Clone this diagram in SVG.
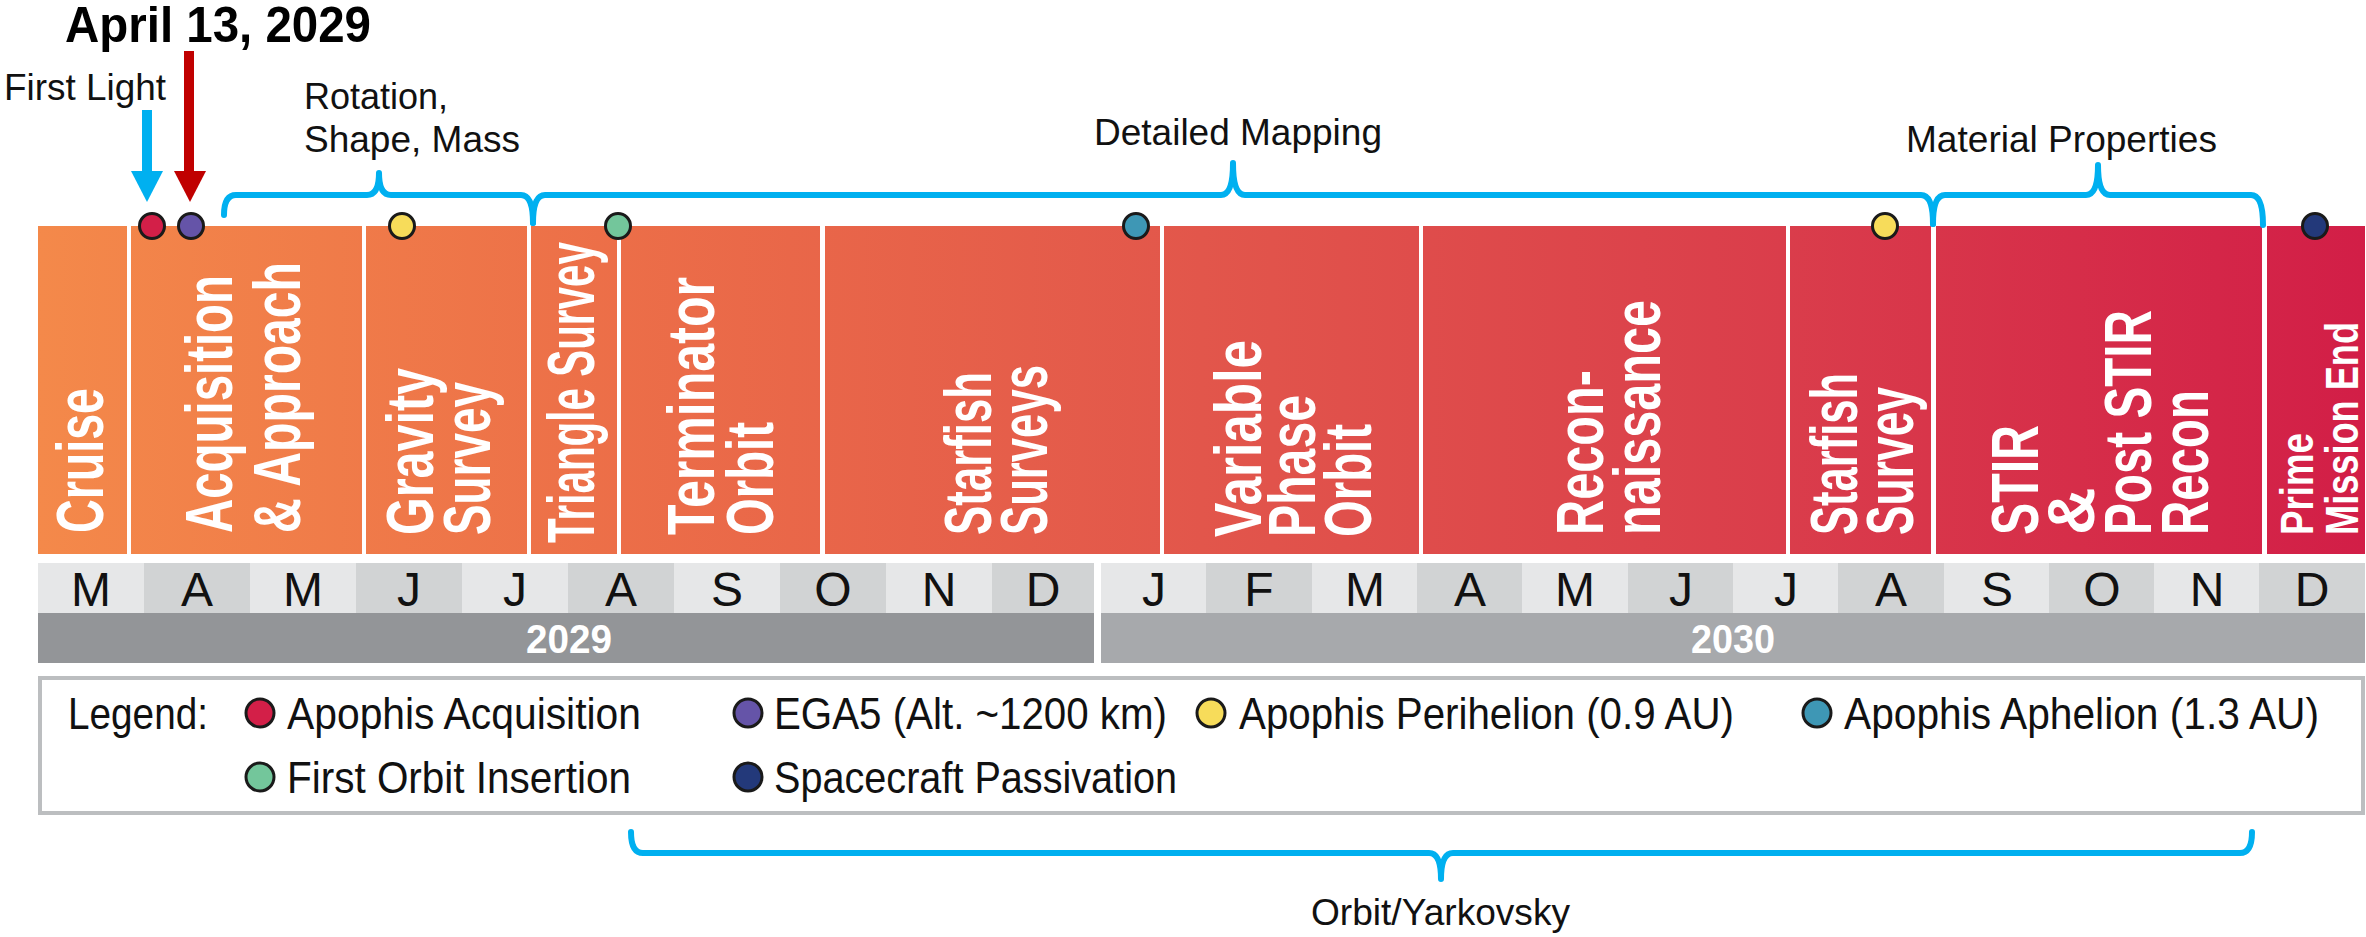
<svg xmlns="http://www.w3.org/2000/svg" width="2366" height="937" viewBox="0 0 2366 937">
<defs>
<linearGradient id="barGrad" gradientUnits="userSpaceOnUse" x1="38" y1="0" x2="2365" y2="0">
<stop offset="0" stop-color="#f4894a"/>
<stop offset="0.25" stop-color="#ec6e48"/>
<stop offset="0.5" stop-color="#e2564b"/>
<stop offset="0.75" stop-color="#da3d4b"/>
<stop offset="1" stop-color="#d21e47"/>
</linearGradient>
</defs>
<style>
.phase{fill:url(#barGrad);}
.pl{font-family:"Liberation Sans",Arial,sans-serif;font-weight:bold;font-size:66px;fill:#ffffff;}
.pls{font-family:"Liberation Sans",Arial,sans-serif;font-weight:bold;font-size:47px;fill:#ffffff;}
.mon{font-family:"Liberation Sans",Arial,sans-serif;font-size:48px;fill:#111111;text-anchor:middle;}
.mL{fill:#e6e7e8;}
.mD{fill:#d1d3d4;}
.yr{font-family:"Liberation Sans",Arial,sans-serif;font-weight:bold;font-size:40px;fill:#ffffff;}
.lg{font-family:"Liberation Sans",Arial,sans-serif;font-size:44px;fill:#111111;}
.lab{font-family:"Liberation Sans",Arial,sans-serif;font-size:36px;fill:#111111;}
.dot{stroke:#1a1a1a;stroke-width:3;}
.brace{fill:none;stroke:#00b0f0;stroke-width:6;stroke-linecap:round;stroke-linejoin:round;}
.cRed{fill:#d31f48;}
.cPur{fill:#6554a8;}
.cYel{fill:#f7dc5a;}
.cGrn{fill:#73c69b;}
.cTeal{fill:#3e97b5;}
.cNavy{fill:#23397a;}
</style>

<!-- Phase bars -->
<g id="phase-cruise">
<rect class="phase" x="38" y="226" width="89" height="328"/>
<text class="pl" transform="translate(103,533) rotate(-90)" textLength="145" lengthAdjust="spacingAndGlyphs">Cruise</text>
</g>
<g id="phase-acquisition">
<rect class="phase" x="131" y="226" width="231" height="328"/>
<text class="pl" transform="translate(232,533) rotate(-90)" textLength="258" lengthAdjust="spacingAndGlyphs">Acquisition</text>
<text class="pl" transform="translate(300,533) rotate(-90)" textLength="271" lengthAdjust="spacingAndGlyphs">&amp; Approach</text>
</g>
<g id="phase-gravity">
<rect class="phase" x="366" y="226" width="161" height="328"/>
<text class="pl" transform="translate(433,535) rotate(-90)" textLength="167" lengthAdjust="spacingAndGlyphs">Gravity</text>
<text class="pl" transform="translate(490,535) rotate(-90)" textLength="153" lengthAdjust="spacingAndGlyphs">Survey</text>
</g>
<g id="phase-triangle">
<rect class="phase" x="531" y="226" width="86" height="328"/>
<text class="pl" transform="translate(594,543) rotate(-90)" textLength="301" lengthAdjust="spacingAndGlyphs">Triangle Survey</text>
</g>
<g id="phase-terminator">
<rect class="phase" x="621" y="226" width="199" height="328"/>
<text class="pl" transform="translate(714,535) rotate(-90)" textLength="258" lengthAdjust="spacingAndGlyphs">Terminator</text>
<text class="pl" transform="translate(773,535) rotate(-90)" textLength="113" lengthAdjust="spacingAndGlyphs">Orbit</text>
</g>
<g id="phase-starfish-surveys">
<rect class="phase" x="825" y="226" width="335" height="328"/>
<text class="pl" transform="translate(991,535) rotate(-90)" textLength="163" lengthAdjust="spacingAndGlyphs">Starfish</text>
<text class="pl" transform="translate(1047,535) rotate(-90)" textLength="170" lengthAdjust="spacingAndGlyphs">Surveys</text>
</g>
<g id="phase-variable">
<rect class="phase" x="1164" y="226" width="255" height="328"/>
<text class="pl" transform="translate(1261,537) rotate(-90)" textLength="197" lengthAdjust="spacingAndGlyphs">Variable</text>
<text class="pl" transform="translate(1315,537) rotate(-90)" textLength="142" lengthAdjust="spacingAndGlyphs">Phase</text>
<text class="pl" transform="translate(1371,537) rotate(-90)" textLength="113" lengthAdjust="spacingAndGlyphs">Orbit</text>
</g>
<g id="phase-reconnaissance">
<rect class="phase" x="1423" y="226" width="363" height="328"/>
<text class="pl" transform="translate(1603,535) rotate(-90)" textLength="165" lengthAdjust="spacingAndGlyphs">Recon-</text>
<text class="pl" transform="translate(1660,535) rotate(-90)" textLength="235" lengthAdjust="spacingAndGlyphs">naissance</text>
</g>
<g id="phase-starfish-survey">
<rect class="phase" x="1790" y="226" width="141" height="328"/>
<text class="pl" transform="translate(1857,535) rotate(-90)" textLength="162" lengthAdjust="spacingAndGlyphs">Starfish</text>
<text class="pl" transform="translate(1913,535) rotate(-90)" textLength="148" lengthAdjust="spacingAndGlyphs">Survey</text>
</g>
<g id="phase-stir">
<rect class="phase" x="1936" y="226" width="326" height="328"/>
<text class="pl" transform="translate(2038,535) rotate(-90)" textLength="110" lengthAdjust="spacingAndGlyphs">STIR</text>
<text class="pl" transform="translate(2094,535) rotate(-90)">&amp;</text>
<text class="pl" transform="translate(2151,535) rotate(-90)" textLength="225" lengthAdjust="spacingAndGlyphs">Post STIR</text>
<text class="pl" transform="translate(2208,535) rotate(-90)" textLength="145" lengthAdjust="spacingAndGlyphs">Recon</text>
</g>
<g id="phase-prime-end">
<rect class="phase" x="2267" y="226" width="98" height="328"/>
<text class="pls" transform="translate(2313,535) rotate(-90)" textLength="102" lengthAdjust="spacingAndGlyphs">Prime</text>
<text class="pls" transform="translate(2358,535) rotate(-90)" textLength="213" lengthAdjust="spacingAndGlyphs">Mission End</text>
</g>

<!-- Months -->
<g id="months">
<rect class="mL" x="38" y="563" width="106" height="50"/>
<rect class="mD" x="144" y="563" width="106" height="50"/>
<rect class="mL" x="250" y="563" width="106" height="50"/>
<rect class="mD" x="356" y="563" width="106" height="50"/>
<rect class="mL" x="462" y="563" width="106" height="50"/>
<rect class="mD" x="568" y="563" width="106" height="50"/>
<rect class="mL" x="674" y="563" width="106" height="50"/>
<rect class="mD" x="780" y="563" width="106" height="50"/>
<rect class="mL" x="886" y="563" width="106" height="50"/>
<rect class="mD" x="992" y="563" width="102" height="50"/>
<rect class="mL" x="1101" y="563" width="106" height="50"/>
<rect class="mD" x="1206" y="563" width="106" height="50"/>
<rect class="mL" x="1312" y="563" width="106" height="50"/>
<rect class="mD" x="1417" y="563" width="106" height="50"/>
<rect class="mL" x="1522" y="563" width="106" height="50"/>
<rect class="mD" x="1628" y="563" width="106" height="50"/>
<rect class="mL" x="1733" y="563" width="106" height="50"/>
<rect class="mD" x="1838" y="563" width="106" height="50"/>
<rect class="mL" x="1944" y="563" width="106" height="50"/>
<rect class="mD" x="2049" y="563" width="106" height="50"/>
<rect class="mL" x="2154" y="563" width="106" height="50"/>
<rect class="mD" x="2259" y="563" width="106" height="50"/>
<text class="mon" x="91" y="606">M</text>
<text class="mon" x="197" y="606">A</text>
<text class="mon" x="303" y="606">M</text>
<text class="mon" x="409" y="606">J</text>
<text class="mon" x="515" y="606">J</text>
<text class="mon" x="621" y="606">A</text>
<text class="mon" x="727" y="606">S</text>
<text class="mon" x="833" y="606">O</text>
<text class="mon" x="939" y="606">N</text>
<text class="mon" x="1043" y="606">D</text>
<text class="mon" x="1154" y="606">J</text>
<text class="mon" x="1259" y="606">F</text>
<text class="mon" x="1365" y="606">M</text>
<text class="mon" x="1470" y="606">A</text>
<text class="mon" x="1575" y="606">M</text>
<text class="mon" x="1681" y="606">J</text>
<text class="mon" x="1786" y="606">J</text>
<text class="mon" x="1891" y="606">A</text>
<text class="mon" x="1997" y="606">S</text>
<text class="mon" x="2102" y="606">O</text>
<text class="mon" x="2207" y="606">N</text>
<text class="mon" x="2312" y="606">D</text>
</g>

<!-- Years -->
<g id="year-2029">
<rect x="38" y="613" width="1056" height="50" fill="#939598"/>
<text class="yr" x="526" y="653" textLength="86" lengthAdjust="spacingAndGlyphs">2029</text>
</g>
<g id="year-2030">
<rect x="1101" y="613" width="1264" height="50" fill="#a7a9ac"/>
<text class="yr" x="1691" y="653" textLength="84" lengthAdjust="spacingAndGlyphs">2030</text>
</g>

<!-- Event dots -->
<g id="events">
<circle class="dot cRed" cx="152" cy="226" r="12.5"/>
<circle class="dot cPur" cx="191" cy="226" r="12.5"/>
<circle class="dot cYel" cx="402" cy="226" r="12.5"/>
<circle class="dot cGrn" cx="618" cy="226" r="12.5"/>
<circle class="dot cTeal" cx="1136" cy="226" r="12.5"/>
<circle class="dot cYel" cx="1885" cy="226" r="12.5"/>
<circle class="dot cNavy" cx="2315" cy="226" r="12.5"/>
</g>

<!-- Top labels and arrows -->
<g id="label-april">
<text x="65" y="42" font-family="'Liberation Sans',Arial,sans-serif" font-weight="bold" font-size="50" fill="#000" textLength="306" lengthAdjust="spacingAndGlyphs">April 13, 2029</text>
</g>
<g id="label-first-light">
<text class="lab" x="4" y="100" textLength="162" lengthAdjust="spacingAndGlyphs">First Light</text>
</g>
<g id="arrows">
<rect x="142" y="110" width="10" height="62" fill="#00b0f0"/>
<polygon points="131,171 163,171 147,202" fill="#00b0f0"/>
<rect x="184" y="51" width="10" height="121" fill="#c00000"/>
<polygon points="174,171 206,171 190,202" fill="#c00000"/>
</g>

<!-- Braces -->
<g id="connectors">
<path class="brace" d="M224,215 Q224,195 236,195 L367,195 Q379,195 379,173 Q379,195 391,195 L521,195 Q533,195 533,223"/>
<path class="brace" d="M533,223 Q533,195 545,195 L1221,195 Q1233,195 1233,163 Q1233,195 1245,195 L1921,195 Q1933,195 1933,224"/>
<path class="brace" d="M1933,224 Q1933,195 1945,195 L2086,195 Q2098,195 2098,165 Q2098,195 2110,195 L2251,195 Q2263,195 2263,225"/>
<path class="brace" d="M631,832 Q631,853 643,853 L1429,853 Q1441,853 1441,879 Q1441,853 1453,853 L2240,853 Q2252,853 2252,832"/>
</g>

<g id="label-rotation">
<text class="lab" x="304" y="109">Rotation,</text>
<text class="lab" x="304" y="152" textLength="216" lengthAdjust="spacingAndGlyphs">Shape, Mass</text>
</g>
<g id="label-detailed">
<text class="lab" x="1094" y="145" textLength="288" lengthAdjust="spacingAndGlyphs">Detailed Mapping</text>
</g>
<g id="label-material">
<text class="lab" x="1906" y="152" textLength="311" lengthAdjust="spacingAndGlyphs">Material Properties</text>
</g>
<g id="label-orbit">
<text class="lab" x="1311" y="925" textLength="259" lengthAdjust="spacingAndGlyphs">Orbit/Yarkovsky</text>
</g>

<!-- Legend -->
<g id="legend">
<rect x="40" y="678" width="2323" height="135" fill="#ffffff" stroke="#bcbec0" stroke-width="4"/>
<text class="lg" x="68" y="729" textLength="140" lengthAdjust="spacingAndGlyphs">Legend:</text>
<circle class="dot cRed" cx="260" cy="713" r="14"/>
<text class="lg" x="287" y="729" textLength="354" lengthAdjust="spacingAndGlyphs">Apophis Acquisition</text>
<circle class="dot cPur" cx="748" cy="713" r="14"/>
<text class="lg" x="774" y="729" textLength="393" lengthAdjust="spacingAndGlyphs">EGA5 (Alt. ~1200 km)</text>
<circle class="dot cYel" cx="1211" cy="713" r="14"/>
<text class="lg" x="1239" y="729" textLength="495" lengthAdjust="spacingAndGlyphs">Apophis Perihelion (0.9 AU)</text>
<circle class="dot cTeal" cx="1817" cy="713" r="14"/>
<text class="lg" x="1844" y="729" textLength="475" lengthAdjust="spacingAndGlyphs">Apophis Aphelion (1.3 AU)</text>
<circle class="dot cGrn" cx="260" cy="777" r="14"/>
<text class="lg" x="287" y="793" textLength="344" lengthAdjust="spacingAndGlyphs">First Orbit Insertion</text>
<circle class="dot cNavy" cx="748" cy="777" r="14"/>
<text class="lg" x="774" y="793" textLength="403" lengthAdjust="spacingAndGlyphs">Spacecraft Passivation</text>
</g>
</svg>
